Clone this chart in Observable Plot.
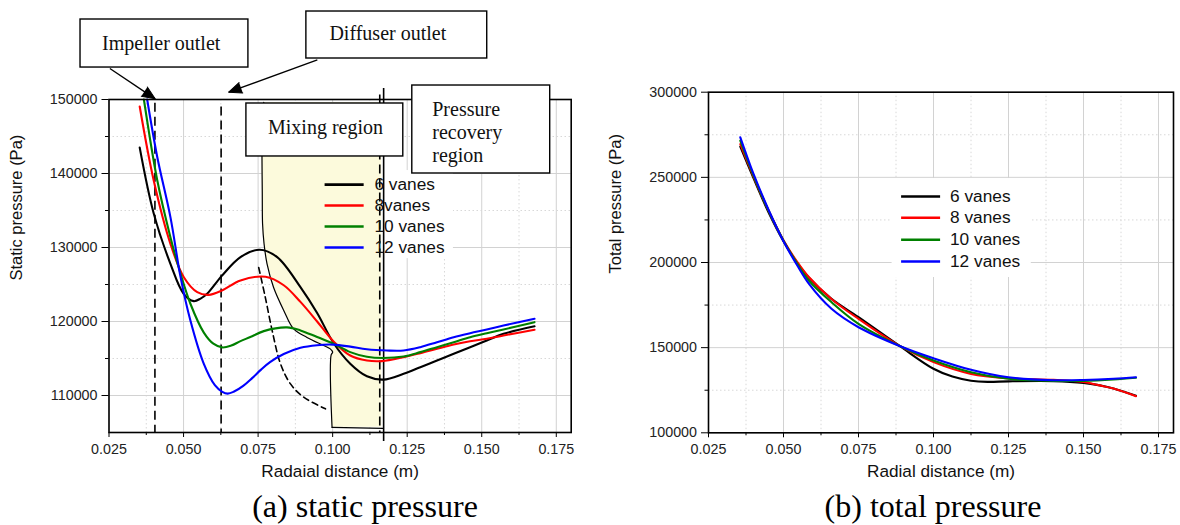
<!DOCTYPE html>
<html><head><meta charset="utf-8">
<script src="https://cdn.jsdelivr.net/npm/d3@7"></script>
<script src="https://cdn.jsdelivr.net/npm/@observablehq/plot@0.6"></script>
<style>
body{margin:0;background:#fff;}
#wrap{position:relative;width:1180px;height:525px;overflow:hidden;background:#fff;}
#wrap svg{position:absolute;top:0;overflow:visible;}
.cap{position:absolute;font-family:"Liberation Serif","DejaVu Serif",serif;font-size:32px;color:#000;white-space:nowrap;transform:translate(-50%,-50%);}
</style></head><body>
<div id="wrap"></div>
<script>
// ---------- data ----------
const series = ["6 vanes", "8 vanes", "10 vanes", "12 vanes"];
const leftLegendLabels = ["6 vanes", "8vanes", "10 vanes", "12 vanes"];
const colors = ["#000000", "#ff0000", "#008000", "#0000ff"];

const xMajor = [0.025, 0.05, 0.075, 0.1, 0.125, 0.15, 0.175];
const xMinor = [0.0375, 0.0625, 0.0875, 0.1125, 0.1375, 0.1625];
const staticYMajor = [110000, 120000, 130000, 140000, 150000];
const staticYMinor = [115000, 125000, 135000, 145000];
const totalYMajor = [100000, 150000, 200000, 250000, 300000];
const totalYMinor = [125000, 175000, 225000, 275000];

// static pressure (a)
const static6 = [[0.0353,143500],[0.0400,134600],[0.0456,127800],[0.0501,123700],[0.0534,122750],[0.0557,123100],[0.0579,123750],[0.0629,126200],[0.0691,128700],[0.0755,129700],[0.0814,128700],[0.0892,124650],[0.0948,121150],[0.1003,117100],[0.1059,114300],[0.1115,112600],[0.1170,112150],[0.1238,112930],[0.1294,113820],[0.1350,114730],[0.1406,115630],[0.1461,116530],[0.1517,117430],[0.1573,118330],[0.1677,119350]];
const static8 = [[0.0353,149050],[0.0400,139050],[0.0456,130500],[0.0501,125980],[0.0546,123960],[0.0584,123600],[0.0629,124190],[0.0691,125540],[0.0775,126050],[0.0836,124900],[0.0892,122650],[0.0948,120000],[0.1003,117300],[0.1059,115400],[0.1115,114730],[0.1165,114650],[0.1238,115180],[0.1294,115720],[0.1350,116310],[0.1406,116890],[0.1461,117340],[0.1517,117660],[0.1573,118110],[0.1677,118880]];
const static10 = [[0.0367,150000],[0.0412,139050],[0.0456,131400],[0.0490,126450],[0.0523,122400],[0.0568,118500],[0.0600,117000],[0.0630,116500],[0.0660,116750],[0.0691,117350],[0.0724,117900],[0.0769,118700],[0.0847,119200],[0.0892,118800],[0.0948,117900],[0.1003,117000],[0.1059,115860],[0.1115,115230],[0.1170,115070],[0.1238,115270],[0.1294,115860],[0.1350,116530],[0.1406,117200],[0.1461,117880],[0.1517,118420],[0.1573,118920],[0.1677,119910]];
const static12 = [[0.0378,150000],[0.0412,142200],[0.0456,134100],[0.0490,126000],[0.0523,120130],[0.0568,114280],[0.0605,111400],[0.0630,110500],[0.0648,110250],[0.0668,110500],[0.0700,111300],[0.0730,112350],[0.0760,113500],[0.0790,114500],[0.0836,115600],[0.0892,116450],[0.0948,116800],[0.1003,116870],[0.1059,116600],[0.1115,116250],[0.1182,116080],[0.1238,116080],[0.1294,116530],[0.1350,117200],[0.1406,117880],[0.1461,118420],[0.1517,118920],[0.1573,119460],[0.1677,120370]];

// total pressure (b)
const total6 = [[0.0356,268000],[0.0400,249500],[0.0450,229500],[0.0500,212500],[0.0545,200000],[0.0585,191000],[0.0660,178600],[0.0750,167900],[0.0887,151000],[0.1000,137600],[0.1063,133000],[0.1125,130600],[0.1180,129900],[0.1250,130200],[0.1400,130300],[0.1500,129300],[0.1550,128000],[0.1600,126000],[0.1675,121700]];
const total8 = [[0.0356,269500],[0.0400,250500],[0.0450,230500],[0.0500,213000],[0.0545,200500],[0.0585,191300],[0.0660,178600],[0.0750,166900],[0.0887,151000],[0.1000,141500],[0.1125,134600],[0.1250,132000],[0.1400,131100],[0.1500,129800],[0.1550,128000],[0.1600,126000],[0.1675,121500]];
const total10 = [[0.0356,271500],[0.0400,251000],[0.0450,230500],[0.0500,212800],[0.0545,199500],[0.0585,189300],[0.0660,176700],[0.0750,164000],[0.0887,151000],[0.1000,142500],[0.1125,135600],[0.1250,131700],[0.1400,130500],[0.1500,130500],[0.1600,131300],[0.1675,132300]];
const total12 = [[0.0356,273500],[0.0400,252000],[0.0450,231000],[0.0500,212500],[0.0545,198500],[0.0585,187400],[0.0660,172800],[0.0750,162000],[0.0887,151000],[0.1000,143800],[0.1125,137000],[0.1250,132600],[0.1400,130900],[0.1500,131000],[0.1600,131700],[0.1675,132600]];

// annotation geometry of panel (a), in data units
const outletLines = [0.0404, 0.0626, 0.1158];
const outletTops = [149500, 149000, 150600];
const dashedDecay = [[0.0752,127300],[0.0774,123300],[0.0797,118800],[0.0825,114300],[0.0858,111600],[0.0903,109770],[0.0976,108200]];
const mixingEdge = [[0.0769,149600],[0.0763,146000],[0.0763,142400],[0.0764,137500],[0.0765,133200],[0.0770,130500],[0.0780,127800],[0.0802,124600],[0.0836,121500],[0.0869,119000],[0.0914,117850],[0.0970,116750],[0.0992,116300],[0.1000,115850],[0.0995,115500],[0.0998,105700]];
const mixingBottom = [[0.0998,105700],[0.1168,105550]];
const mixingRight = 0.1165;
const recoveryLine = {x: 0.1171, top: 151500, bottom: 103800};
const boxes = [
  {x1: 0.01545, x2: 0.07175, y1: 154320, y2: 160810},
  {x1: 0.09119, x2: 0.15184, y1: 155540, y2: 161890},
  {x1: 0.07108, x2: 0.12369, y1: 142300, y2: 149460},
  {x1: 0.12671, x2: 0.17296, y1: 140000, y2: 151890}
];
const boxTextsCentered = [
  {x: 0.0425, y: 157570, t: "Impeller outlet"},
  {x: 0.1185, y: 158920, t: "Diffuser outlet"},
  {x: 0.0976, y: 146250, t: "Mixing region"}
];
const boxTextsLeft = [
  {x: 0.1334, y: 145680, t: "Pressure\nrecovery\nregion"}
];
const arrows = [
  {x1: 0.0253, y1: 154190, x2: 0.04048, y2: 150095, rot: 123.5},
  {x1: 0.09487, y1: 155365, x2: 0.06515, y2: 150986, rot: 249.9}
];
const leftLegend = {lx1: 0.0973, lx2: 0.1104, tx: 0.1140, ys: [138500, 135680, 132840, 130000], bg: {x1: 0.0932, x2: 0.1405, y1: 128500, y2: 140400}};
const rightLegend = {lx1: 0.0892, lx2: 0.1022, tx: 0.1055, ys: [238750, 226250, 213330, 200600], bg: {x1: 0.0862, x2: 0.1326, y1: 191200, y2: 249300}};

// ---------- helpers ----------
const toRows = (arrs) => arrs.flatMap((arr, i) => arr.map(([x, y]) => ({x, y, s: series[i]})));
const staticRows = toRows([static6, static8, static10, static12]);
const totalRows = toRows([total6, total8, total10, total12]);
const pts = (arr) => arr.map(([x, y]) => ({x, y}));
const fontSans = "'Liberation Sans', Arial, sans-serif";
const fontSerif = "'Liberation Serif', 'DejaVu Serif', serif";
const gridStyle = {stroke: "#d2d2d2", strokeOpacity: 1, strokeWidth: 1};
const minorGrid = {stroke: "#d8d8d8", strokeOpacity: 1, strokeWidth: 1, strokeDasharray: "1.5,2.5"};

function axes(yMajor, yMinor, xLabel, yLabel, yDx, yDy) {
  return [
    Plot.frame({stroke: "black", strokeWidth: 1.6}),
    Plot.axisX({ticks: xMajor, tickSize: 5, tickPadding: 6, tickFormat: d3.format(".3f"), label: null, fontSize: 14.3, fill: "#222"}),
    Plot.axisX({ticks: xMinor, tickSize: 3, tickFormat: () => "", label: null}),
    Plot.axisY({ticks: yMajor, tickSize: 7, tickPadding: 4.5, tickFormat: d => String(d), label: null, fontSize: 14.3, fill: "#222"}),
    Plot.axisY({ticks: yMinor, tickSize: 3.5, tickFormat: () => "", label: null}),
    Plot.text([xLabel], {frameAnchor: "bottom", dy: 44, fontSize: 17.2, fill: "#111"}),
    Plot.text([yLabel], {frameAnchor: "left", dx: yDx, dy: yDy, rotate: -90, fontSize: 16.5, fill: "#111"})
  ];
}

function legend(L, labels) {
  const rows = labels.map((t, i) => ({t, y: L.ys[i], c: colors[i]}));
  return [
    Plot.link(rows, {x1: () => L.lx1, x2: () => L.lx2, y1: "y", y2: "y", stroke: d => d.c, strokeWidth: 2.6}),
    Plot.text(rows, {x: () => L.tx, y: "y", text: "t", textAnchor: "start", fontSize: 17.3, fill: "#111"})
  ];
}

// ---------- panel (a) ----------
const left = Plot.plot({
  width: 590, height: 525,
  marginLeft: 108.5, marginRight: 19.3, marginTop: 99, marginBottom: 93,
  x: {domain: [0.025, 0.18]},
  y: {domain: [105000, 150000]},
  color: {domain: series, range: colors},
  style: {fontFamily: fontSans, fontSize: "14px", background: "transparent", overflow: "visible"},
  marks: [
    Plot.gridX(xMajor, gridStyle),
    Plot.gridX(xMinor, minorGrid),
    Plot.gridY(staticYMajor, gridStyle),
    Plot.gridY(staticYMinor, minorGrid),
    Plot.rect([leftLegend.bg], {x1: "x1", x2: "x2", y1: "y1", y2: "y2", fill: "white"}),
    Plot.areaX(pts(mixingEdge), {y: "y", x1: "x", x2: () => mixingRight, fill: "#fcfadc", curve: "linear"}),
    Plot.line(pts(mixingEdge), {x: "x", y: "y", stroke: "black", strokeWidth: 1.2, curve: "catmull-rom"}),
    Plot.line(pts(mixingBottom), {x: "x", y: "y", stroke: "black", strokeWidth: 1.3}),
    Plot.ruleX(outletLines, {y1: (d, i) => outletTops[i], y2: 105000, stroke: "black", strokeWidth: 1.6, strokeDasharray: "9,5"}),
    Plot.ruleX([recoveryLine.x], {y1: recoveryLine.top, y2: recoveryLine.bottom, stroke: "black", strokeWidth: 1.6}),
    Plot.line(pts(dashedDecay), {x: "x", y: "y", stroke: "black", strokeWidth: 1.6, strokeDasharray: "6,4", curve: "catmull-rom"}),
    Plot.line(staticRows, {x: "x", y: "y", z: "s", stroke: "s", strokeWidth: 2.1, curve: "catmull-rom"}),
    ...legend(leftLegend, leftLegendLabels),
    ...axes(staticYMajor, staticYMinor, "Radaial distance (m)", "Static pressure (Pa)", -91.8, 14.5),
    Plot.rect(boxes, {x1: "x1", x2: "x2", y1: "y1", y2: "y2", fill: "white", stroke: "black", strokeWidth: 1.4}),
    Plot.text(boxTextsCentered, {x: "x", y: "y", text: "t", textAnchor: "middle", fontFamily: fontSerif, fontSize: 20, fill: "#111"}),
    Plot.text(boxTextsLeft, {x: "x", y: "y", text: "t", textAnchor: "start", fontFamily: fontSerif, fontSize: 20, lineHeight: 1.17, fill: "#111"}),
    Plot.link(arrows, {x1: "x1", y1: "y1", x2: "x2", y2: "y2", stroke: "black", strokeWidth: 1.4}),
    Plot.vector(arrows, {x: "x2", y: "y2", rotate: "rot", length: 13, r: 5.5, shape: "spike", anchor: "end", fill: "black", stroke: "black", strokeWidth: 1})
  ]
});

// ---------- panel (b) ----------
const right = Plot.plot({
  width: 590, height: 525,
  marginLeft: 118, marginRight: 7, marginTop: 91.7, marginBottom: 92.7,
  x: {domain: [0.025, 0.18]},
  y: {domain: [100000, 300000]},
  color: {domain: series, range: colors},
  style: {fontFamily: fontSans, fontSize: "14px", background: "transparent", overflow: "visible"},
  marks: [
    Plot.gridX(xMajor, gridStyle),
    Plot.gridX(xMinor, minorGrid),
    Plot.gridY(totalYMajor, gridStyle),
    Plot.gridY(totalYMinor, minorGrid),
    Plot.rect([rightLegend.bg], {x1: "x1", x2: "x2", y1: "y1", y2: "y2", fill: "white"}),
    Plot.line(totalRows, {x: "x", y: "y", z: "s", stroke: "s", strokeWidth: 2.1, curve: "catmull-rom"}),
    ...legend(rightLegend, series),
    ...axes(totalYMajor, totalYMinor, "Radial distance (m)", "Total pressure (Pa)", -92.3, 11)
  ]
});

const wrap = document.getElementById("wrap");
left.style.left = "0px";
right.style.left = "590px";
wrap.appendChild(left);
wrap.appendChild(right);

const captions = [
  {t: "(a) static pressure", x: 365, y: 506},
  {t: "(b) total pressure", x: 933, y: 506}
];
for (const c of captions) {
  const d = document.createElement("div");
  d.className = "cap";
  d.textContent = c.t;
  d.style.left = c.x + "px";
  d.style.top = c.y + "px";
  wrap.appendChild(d);
}
</script></body></html>
